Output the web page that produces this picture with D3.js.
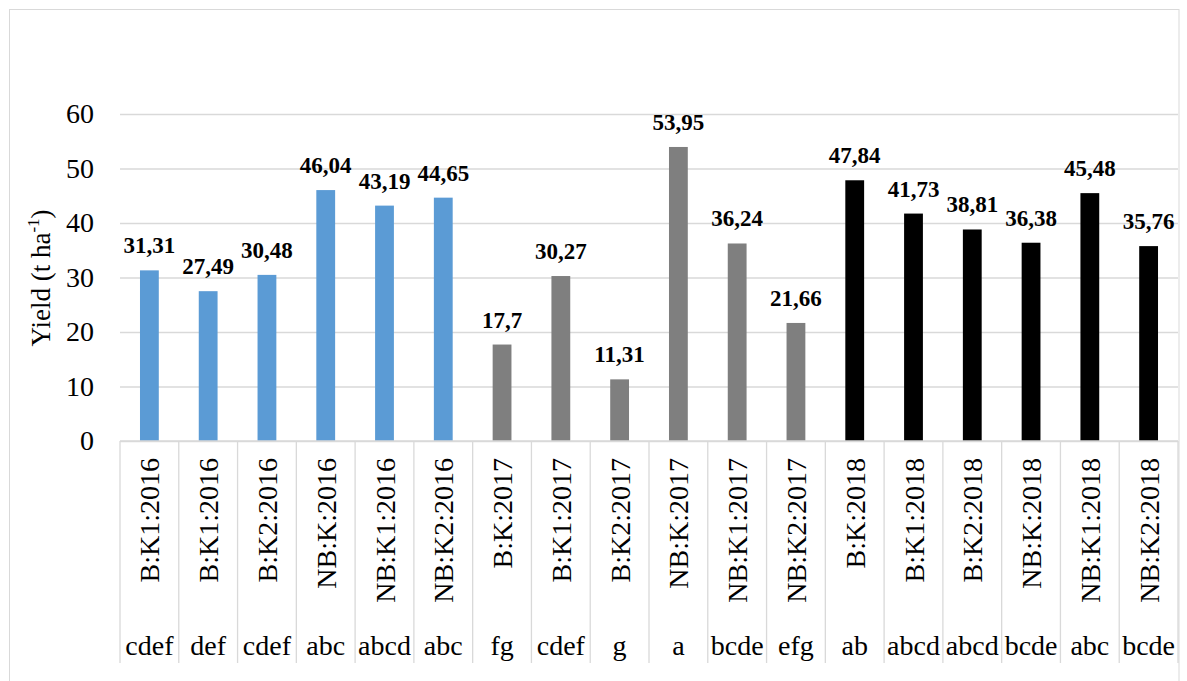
<!DOCTYPE html>
<html lang="en">
<head>
    <meta charset="UTF-8">
    <title>Yield chart</title>
    <script src="https://cdn.jsdelivr.net/npm/d3@7"></script>
    <style>
        body { margin: 0; padding: 0; background: #fff; }
        svg { display: block; }
    </style>
</head>
<body>
    <svg id="chart"></svg>
    <script>
        // data
        const categories = ['B:K1:2016', 'B:K1:2016', 'B:K2:2016', 'NB:K:2016', 'NB:K1:2016', 'NB:K2:2016',
                            'B:K:2017', 'B:K1:2017', 'B:K2:2017', 'NB:K:2017', 'NB:K1:2017', 'NB:K2:2017',
                            'B:K:2018', 'B:K1:2018', 'B:K2:2018', 'NB:K:2018', 'NB:K1:2018', 'NB:K2:2018'];
        const yields = [31.31, 27.49, 30.48, 46.04, 43.19, 44.65,
                        17.7, 30.27, 11.31, 53.95, 36.24, 21.66,
                        47.84, 41.73, 38.81, 36.38, 45.48, 35.76];
        const letters = ['cdef', 'def', 'cdef', 'abc', 'abcd', 'abc',
                         'fg', 'cdef', 'g', 'a', 'bcde', 'efg',
                         'ab', 'abcd', 'abcd', 'bcde', 'abc', 'bcde'];
        const years = ['2016', '2016', '2016', '2016', '2016', '2016',
                       '2017', '2017', '2017', '2017', '2017', '2017',
                       '2018', '2018', '2018', '2018', '2018', '2018'];
        const yTicks = [0, 10, 20, 30, 40, 50, 60];

        const W = 1187, H = 681;
        const plotLeft = 120, plotRight = 1178, plotTop = 114, plotBase = 441;
        const gridColor = '#d9d9d9';
        const serif = 'Liberation Serif, DejaVu Serif, serif';

        const svg = d3.select('#chart').attr('width', W).attr('height', H)
            .attr('font-family', serif);

        // outer chart border
        svg.append('rect')
            .attr('x', 9.5).attr('y', 9.5)
            .attr('width', 1169.5).attr('height', 700)
            .attr('fill', 'none')
            .attr('stroke', gridColor);

        const idx = d3.range(categories.length);
        const x = d3.scaleBand().domain(idx).range([plotLeft, plotRight]).padding(0);
        const y = d3.scaleLinear().domain([0, 60]).range([plotBase, plotTop]);
        const color = d3.scaleOrdinal()
            .domain(['2016', '2017', '2018'])
            .range(['#5b9bd5', '#7f7f7f', '#000000']);

        // gridlines and y labels
        const yAxis = d3.axisLeft(y).tickValues(yTicks).tickSize(-(plotRight - plotLeft)).tickPadding(26);
        const gy = svg.append('g').attr('transform', `translate(${plotLeft},0)`).call(yAxis);
        gy.attr('font-family', serif);
        gy.select('.domain').remove();
        gy.selectAll('.tick line').attr('stroke', gridColor).attr('stroke-width', 1.3);
        gy.selectAll('.tick text')
            .attr('font-size', 28)
            .attr('fill', '#000');

        // bars
        const bw = x.bandwidth() * 0.32;
        svg.append('g').selectAll('rect')
            .data(idx)
            .join('rect')
            .attr('x', i => x(i) + (x.bandwidth() - bw) / 2)
            .attr('y', i => y(yields[i]))
            .attr('width', bw)
            .attr('height', i => y(0) - y(yields[i]))
            .attr('fill', i => color(years[i]));

        // value labels
        svg.append('g').selectAll('text')
            .data(idx)
            .join('text')
            .attr('x', i => x(i) + x.bandwidth() / 2)
            .attr('y', i => y(yields[i]) - 17)
            .attr('text-anchor', 'middle')
            .attr('font-family', serif)
            .attr('font-size', 23)
            .attr('font-weight', 'bold')
            .text(i => String(yields[i]).replace('.', ','));

        // table under the axis
        const tableBottom = 663;
        svg.append('line')
            .attr('x1', plotLeft).attr('x2', plotRight)
            .attr('y1', plotBase).attr('y2', plotBase)
            .attr('stroke', gridColor).attr('stroke-width', 1.3);
        svg.append('g').selectAll('line')
            .data(d3.range(categories.length + 1))
            .join('line')
            .attr('x1', i => plotLeft + i * x.bandwidth())
            .attr('x2', i => plotLeft + i * x.bandwidth())
            .attr('y1', plotBase).attr('y2', tableBottom)
            .attr('stroke', gridColor).attr('stroke-width', 1.3);

        // rotated category labels
        svg.append('g').selectAll('text')
            .data(idx)
            .join('text')
            .attr('transform', i => `translate(${x(i) + x.bandwidth() / 2 + 10},458) rotate(-90)`)
            .attr('text-anchor', 'end')
            .attr('font-family', serif)
            .attr('font-size', 28)
            .text(i => categories[i]);

        // significance letters
        svg.append('g').selectAll('text')
            .data(idx)
            .join('text')
            .attr('x', i => x(i) + x.bandwidth() / 2)
            .attr('y', 655)
            .attr('text-anchor', 'middle')
            .attr('font-family', serif)
            .attr('font-size', 28)
            .text(i => letters[i]);

        // y axis title
        const title = svg.append('text')
            .attr('transform', 'translate(50,278) rotate(-90)')
            .attr('text-anchor', 'middle')
            .attr('font-family', serif)
            .attr('font-size', 27);
        title.append('tspan').text('Yield (t ha');
        title.append('tspan').attr('font-size', 17).attr('dy', -11).text('-1');
        title.append('tspan').attr('dy', 11).text(')');
    </script>
</body>
</html>
